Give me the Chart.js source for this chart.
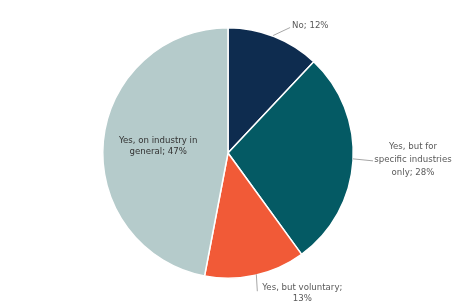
<!DOCTYPE html>
<html>
<head>
<meta charset="utf-8">
<script src="https://cdn.jsdelivr.net/npm/chart.js@4/dist/chart.umd.min.js"></script>
<style>
  html, body { margin: 0; padding: 0; background: #fff; }
  #wrap { width: 454px; height: 307px; position: relative; }
</style>
</head>
<body>
<div id="wrap"><canvas id="pieChart"></canvas></div>
<script>
// Answers and their share of respondents (%)
const categories = ['No', 'Yes, but for specific industries only', 'Yes, but voluntary', 'Yes, on industry in general'];
const shares = [12, 28, 13, 47];
const labelLines = [
  ['No; 12%'],
  ['Yes, but for', 'specific industries', 'only; 28%'],
  ['Yes, but voluntary;', '13%'],
  ['Yes, on industry in', 'general; 47%']
];
const sliceColors = ['#0e2c4f', '#045a64', '#f15a37', '#b5cbcb'];

const FONT = '8.6px "DejaVu Sans", Verdana, sans-serif';

// draws the data labels with leader lines, placed from each arc's geometry
const pieLabels = {
  id: 'pieLabels',
  afterDatasetsDraw(chart) {
    const ctx = chart.ctx;
    const arcs = chart.getDatasetMeta(0).data;
    ctx.save();
    ctx.font = FONT;
    ctx.textBaseline = 'middle';
    ctx.strokeStyle = '#a6a6a6';
    ctx.lineWidth = 1;
    arcs.forEach((arc, i) => {
      const p = arc.getProps(['x', 'y', 'startAngle', 'endAngle', 'outerRadius'], true);
      const mid = (p.startAngle + p.endAngle) / 2;
      const ex = p.x + Math.cos(mid) * p.outerRadius;
      const ey = p.y + Math.sin(mid) * p.outerRadius;
      const lines = labelLines[i];
      ctx.fillStyle = '#595959';
      if (i === 0) {
        ctx.beginPath(); ctx.moveTo(ex - 1, ey - 1); ctx.lineTo(ex + 16, ey - 9); ctx.stroke();
        ctx.textAlign = 'left';
        ctx.fillText(lines[0], ex + 18, ey - 11);
      } else if (i === 1) {
        ctx.beginPath(); ctx.moveTo(ex, ey - 2); ctx.lineTo(ex + 20, ey); ctx.stroke();
        ctx.textAlign = 'center';
        lines.forEach((t, k) => ctx.fillText(t, ex + 60, ey - 14 + k * 13));
      } else if (i === 2) {
        ctx.beginPath(); ctx.moveTo(ex + 1, ey - 1); ctx.lineTo(ex + 2, ey + 16); ctx.stroke();
        ctx.textAlign = 'center';
        lines.forEach((t, k) => ctx.fillText(t, ex + 47, ey + 13 + k * 11));
      } else {
        const cx = p.x + Math.cos(mid) * p.outerRadius * 0.56;
        const cy = p.y + Math.sin(mid) * p.outerRadius * 0.56;
        ctx.fillStyle = '#333333';
        ctx.textAlign = 'center';
        lines.forEach((t, k) => ctx.fillText(t, cx, cy - 6 + k * 11));
      }
    });
    ctx.restore();
  }
};

new Chart(document.getElementById('pieChart'), {
  type: 'pie',
  data: {
    labels: categories,
    datasets: [{
      data: shares,
      backgroundColor: sliceColors,
      borderColor: '#ffffff',
      borderWidth: 1.5,
      hoverOffset: 0
    }]
  },
  options: {
    responsive: true,
    maintainAspectRatio: false,
    animation: false,
    layout: { padding: { top: 27, bottom: 28, left: 2, right: 0 } },
    plugins: {
      legend: { display: false },
      tooltip: { enabled: false }
    }
  },
  plugins: [pieLabels]
});
</script>
</body>
</html>
